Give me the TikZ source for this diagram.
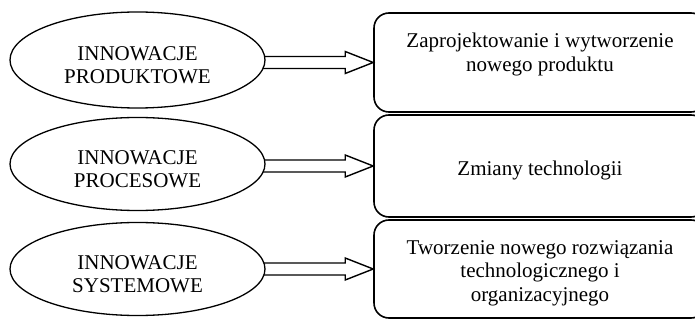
\documentclass[tikz,border=0pt]{standalone}
\usepackage{fontspec}
\setmainfont{Liberation Serif}
\usetikzlibrary{shapes.geometric,calc}
\pgfdeclarelayer{background}
\pgfsetlayers{background,main}
\begin{document}
\begin{tikzpicture}[x=1pt,y=-1pt,
  ell/.style={ellipse,draw,line width=1.3pt,fill=white,minimum width=255pt,inner sep=0pt},
  etext/.style={align=center,inner sep=0pt,font=\fontsize{21}{23.5}\selectfont},
  bx/.style={rectangle,draw,line width=1.6pt,rounded corners=15pt,minimum width=332pt,inner sep=0pt},
  fat/.style={draw,line width=1.4pt,fill=white,line join=miter}]
\useasboundingbox (0,0) rectangle (695,320);
\clip (0,0) rectangle (695,320);
% ellipses
\node[ell,minimum height=96pt] (e1) at (137.5,60) {};
\node[ell,minimum height=93pt] (e2) at (137.5,164) {};
\node[ell,minimum height=93pt] (e3) at (137.5,269) {};
\node[etext] (t1) at ($(e1.center)+(0,5)$) {INNOWACJE\\PRODUKTOWE};
\node[etext] (t2) at ($(e2.center)+(0,5)$) {INNOWACJE\\PROCESOWE};
\node[etext] (t3) at ($(e3.center)+(0,5)$) {INNOWACJE\\SYSTEMOWE};
% boxes
\node[bx,minimum height=99pt] (b1) at (540,62.5) {};
\node[bx,minimum height=102pt] (b2) at (540,166) {};
\node[bx,minimum height=98pt] (b3) at (540,269) {};
\node[etext] (s1) at (540,54.5) {Zaprojektowanie i wytworzenie\\nowego produktu};
\node[etext] (s2) at (540,170) {Zmiany technologii};
\node[etext] (s3) at (540,273) {Tworzenie nowego rozwiązania\\technologicznego i\\organizacyjnego};
% arrows
\begin{pgfonlayer}{background}
\foreach \a/\b in {e1/b1,e2/b2,e3/b3}{
  \draw[fat] let \p1=(\a.east), \p2=(\b.west) in
    (\x1-6pt,\y2+6pt) -- (\x2-28pt,\y2+6pt) -- (\x2-28pt,\y2+11pt) -- (\x2,\y2)
    -- (\x2-28pt,\y2-11pt) -- (\x2-28pt,\y2-6pt) -- (\x1-6pt,\y2-6pt);
}
\end{pgfonlayer}
\end{tikzpicture}
\end{document}
